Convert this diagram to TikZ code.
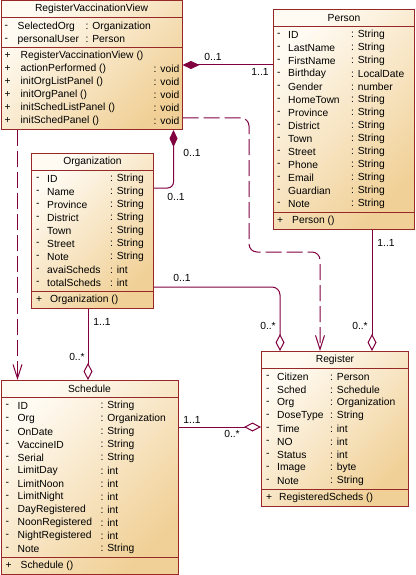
\documentclass[tikz,border=0pt]{standalone}
\usepackage{fontspec}
\setmainfont{Liberation Sans}
\usetikzlibrary{calc}
\usetikzlibrary{arrows.meta}

\definecolor{umlborder}{RGB}{150,40,40}
\definecolor{umlline}{RGB}{128,0,64}
\definecolor{umllight}{RGB}{255,251,243}
\definecolor{umldark}{RGB}{240,208,150}

\tikzset{
	classbox/.style={draw=umlborder, line width=1pt, top color=umllight, bottom color=umldark, shading angle=45, anchor=north west, inner sep=0pt},
	sepline/.style={draw=umlborder, line width=1pt},
	ctitle/.style={inner sep=0pt, font=\fontsize{10.3}{12}\selectfont},
	cell/.style={anchor=west, inner sep=0pt, font=\fontsize{10.3}{12}\selectfont},
	mult/.style={inner sep=0pt, font=\fontsize{10.3}{12}\selectfont},
	conn/.style={draw=umlline, line width=1pt},
	comp/.style={conn, {Diamond[length=17pt,width=8pt,fill=umlline]}-},
	agg/.style={conn, -{Diamond[length=17pt,width=9pt,fill=white]}},
	dep/.style={conn, dash pattern=on 16pt off 5pt, -{Straight Barb[length=14pt,width=9pt]}}
}

\begin{document}
\begin{tikzpicture}[x=1pt,y=-1pt,>=latex]
	\useasboundingbox (0,0) rectangle (415,575);

	%RegisterVaccinationView
	\node[classbox, minimum width=181pt, minimum height=128.5pt] (rvv) at (0.5,0.5) {};
	\node[ctitle] (rvv-title) at ($(rvv.north)+(0,8.75)$) {RegisterVaccinationView};
	\draw[sepline] ($(rvv.north west)+(0,17.5)$) -- ($(rvv.north east)+(0,17.5)$);
	\draw[sepline] ($(rvv.north west)+(0,47)$) -- ($(rvv.north east)+(0,47)$);
	\foreach \n/\t [count=\i from 0] in {SelectedOrg/Organization, personalUser/Person}{
		\node[cell] (rvv-s\i) at ($(rvv.north west)+(4,{26+13*\i})$) {-};
		\node[cell] (rvv-n\i) at ($(rvv.north west)+(17,{26+13*\i})$) {\n};
		\node[cell] (rvv-t\i) at ($(rvv.north west)+(85,{26+13*\i})$) {: \t};
	}
	\node[cell] (rvv-ms0) at ($(rvv.north west)+(4,55.5)$) {+};
	\node[cell] (rvv-m0) at ($(rvv.north west)+(20,55.5)$) {RegisterVaccinationView ()};
	\foreach \n [count=\i from 1] in {actionPerformed, initOrgListPanel, initOrgPanel, initSchedListPanel, initSchedPanel}{
		\node[cell] (rvv-ms\i) at ($(rvv.north west)+(4,{55.5+13*\i})$) {+};
		\node[cell] (rvv-m\i) at ($(rvv.north west)+(20,{55.5+13*\i})$) {\n\ ()};
		\node[cell] (rvv-mt\i) at ($(rvv.north west)+(153,{55.5+13*\i})$) {: void};
	}

	%Person
	\node[classbox, minimum width=141pt, minimum height=219.5pt] (person) at (273,9) {};
	\node[ctitle] (person-title) at ($(person.north)+(0,8.75)$) {Person};
	\draw[sepline] ($(person.north west)+(0,17.5)$) -- ($(person.north east)+(0,17.5)$);
	\draw[sepline] ($(person.north west)+(0,203)$) -- ($(person.north east)+(0,203)$);
	\foreach \n/\t [count=\i from 0] in {ID/String, LastName/String, FirstName/String, Birthday/LocalDate, Gender/number, HomeTown/String, Province/String, District/String, Town/String, Street/String, Phone/String, Email/String, Guardian/String, Note/String}{
		\node[cell] (person-s\i) at ($(person.north west)+(4,{26+13*\i})$) {-};
		\node[cell] (person-n\i) at ($(person.north west)+(15,{26+13*\i})$) {\n};
		\node[cell] (person-t\i) at ($(person.north west)+(78,{26+13*\i})$) {: \t};
	}
	\node[cell] (person-ms0) at ($(person.north west)+(4,211.5)$) {+};
	\node[cell] (person-m0) at ($(person.north west)+(19,211.5)$) {Person ()};

	%Organization
	\node[classbox, minimum width=122pt, minimum height=154.5pt] (org) at (31,153) {};
	\node[ctitle] (org-title) at ($(org.north)+(0,8.75)$) {Organization};
	\draw[sepline] ($(org.north west)+(0,17.5)$) -- ($(org.north east)+(0,17.5)$);
	\draw[sepline] ($(org.north west)+(0,138)$) -- ($(org.north east)+(0,138)$);
	\foreach \n/\t [count=\i from 0] in {ID/String, Name/String, Province/String, District/String, Town/String, Street/String, Note/String, avaiScheds/int, totalScheds/int}{
		\node[cell] (org-s\i) at ($(org.north west)+(5,{26+13*\i})$) {-};
		\node[cell] (org-n\i) at ($(org.north west)+(16,{26+13*\i})$) {\n};
		\node[cell] (org-t\i) at ($(org.north west)+(79,{26+13*\i})$) {: \t};
	}
	\node[cell] (org-ms0) at ($(org.north west)+(5,146.5)$) {+};
	\node[cell] (org-m0) at ($(org.north west)+(19,146.5)$) {Organization ()};

	%Schedule
	\node[classbox, minimum width=177pt, minimum height=193.5pt] (sched) at (0.5,380) {};
	\node[ctitle] (sched-title) at ($(sched.north)+(0,8.75)$) {Schedule};
	\draw[sepline] ($(sched.north west)+(0,17.5)$) -- ($(sched.north east)+(0,17.5)$);
	\draw[sepline] ($(sched.north west)+(0,177)$) -- ($(sched.north east)+(0,177)$);
	\foreach \n/\t [count=\i from 0] in {ID/String, Org/Organization, OnDate/String, VaccineID/String, Serial/String, LimitDay/int, LimitNoon/int, LimitNight/int, DayRegistered/int, NoonRegistered/int, NightRegistered/int, Note/String}{
		\node[cell] (sched-s\i) at ($(sched.north west)+(5,{26+13*\i})$) {-};
		\node[cell] (sched-n\i) at ($(sched.north west)+(17,{26+13*\i})$) {\n};
		\node[cell] (sched-t\i) at ($(sched.north west)+(100,{26+13*\i})$) {: \t};
	}
	\node[cell] (sched-ms0) at ($(sched.north west)+(5,185.5)$) {+};
	\node[cell] (sched-m0) at ($(sched.north west)+(20,185.5)$) {Schedule ()};

	%Register
	\node[classbox, minimum width=147pt, minimum height=154.5pt] (reg) at (261,351) {};
	\node[ctitle] (reg-title) at ($(reg.north)+(0,8.75)$) {Register};
	\draw[sepline] ($(reg.north west)+(0,17.5)$) -- ($(reg.north east)+(0,17.5)$);
	\draw[sepline] ($(reg.north west)+(0,138)$) -- ($(reg.north east)+(0,138)$);
	\foreach \n/\t [count=\i from 0] in {Citizen/Person, Sched/Schedule, Org/Organization, DoseType/String, Time/int, NO/int, Status/int, Image/byte, Note/String}{
		\node[cell] (reg-s\i) at ($(reg.north west)+(5,{26+13*\i})$) {-};
		\node[cell] (reg-n\i) at ($(reg.north west)+(16,{26+13*\i})$) {\n};
		\node[cell] (reg-t\i) at ($(reg.north west)+(69,{26+13*\i})$) {: \t};
	}
	\node[cell] (reg-ms0) at ($(reg.north west)+(5,146.5)$) {+};
	\node[cell] (reg-m0) at ($(reg.north west)+(18,146.5)$) {RegisteredScheds ()};

	%connectors
	\draw[comp] ($(rvv.north east)+(0,64.5)$) coordinate (c1) -- (c1 -| person.west);
	\draw[comp, rounded corners=6pt] ($(rvv.south west)+(173,0)$) |- ($(org.north east)+(0,35)$);
	\coordinate (bend) at (249,252);
	\draw[dep, rounded corners=8pt] ($(rvv.north east)+(0,117.5)$) -| (bend) -| ($(reg.north west)+(59,0)$);
	\draw[dep] ($(rvv.south west)+(17,0)$) coordinate (c4) -- (c4 |- sched.north);
	\draw[agg] ($(org.south west)+(57,0)$) coordinate (c5) -- (c5 |- sched.north);
	\draw[agg, rounded corners=8pt] ($(org.north east)+(0,134)$) -| ($(reg.north west)+(19,0)$);
	\draw[agg] ($(person.south west)+(99,0)$) coordinate (c7) -- (c7 |- reg.north);
	\draw[agg] ($(sched.north east)+(0,47)$) coordinate (c8) -- (c8 -| reg.west);

	%multiplicities
	\node[mult] (m1) at (213,57) {0..1};
	\node[mult] (m2) at (260,72) {1..1};
	\node[mult] (m3) at (192,153) {0..1};
	\node[mult] (m4) at (176,197) {0..1};
	\node[mult] (m5) at (182,278) {0..1};
	\node[mult] (m6) at (268,326) {0..*};
	\node[mult] (m7) at (102,322) {1..1};
	\node[mult] (m8) at (77,357) {0..*};
	\node[mult] (m9) at (386,243) {1..1};
	\node[mult] (m10) at (360,326) {0..*};
	\node[mult] (m11) at (192,420) {1..1};
	\node[mult] (m12) at (232,434) {0..*};

\end{tikzpicture}
\end{document}
